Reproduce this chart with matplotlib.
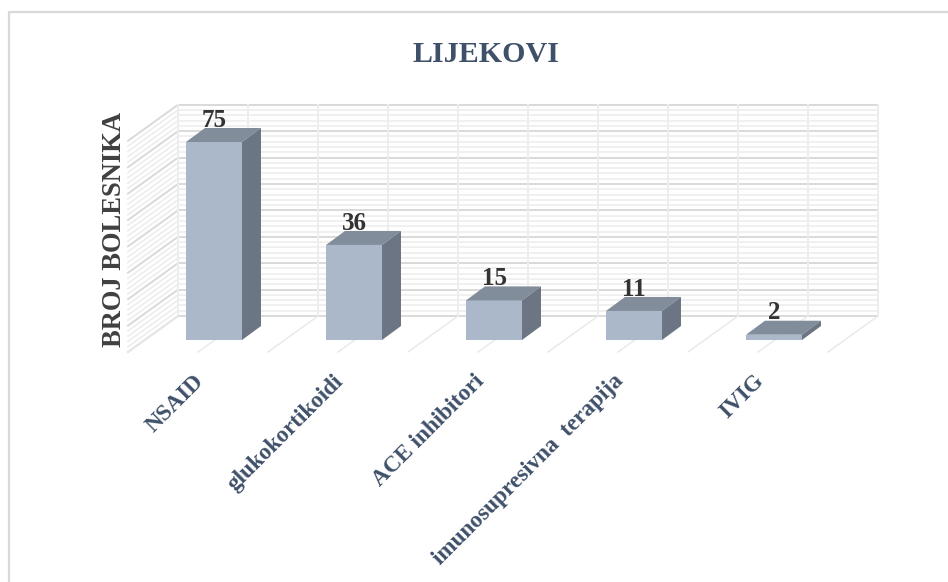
"""Stupci LIJEKOVI s kosom projekcijom (3D izgled)."""
import matplotlib
matplotlib.use('Agg')
import matplotlib.pyplot as plt
from matplotlib.patches import Polygon

kategorije = ['NSAID', 'glukokortikoidi', 'ACE inhibitori', 'imunosupresivna  terapija', 'IVIG']
vrijednosti = [75, 36, 15, 11, 2]
naslov = 'LIJEKOVI'
y_naslov = 'BROJ BOLESNIKA'
y_max = 80

W, H = 948, 582
PX_X, PX_Y = 140.0, 2.64     # piksela po kategoriji / po bolesniku
X0_PX, Y0_PX = 214.0, 340.0  # sredina prvog stupca i nula na prednjoj ravnini
POLA = 28 / PX_X             # pola širine stupca

# kosi pomak: dubina stupca i položaj zidova u odnosu na prednju ravninu stupca
BAR_DX, BAR_DY = 19 / PX_X, 14 / PX_Y
ZID_DX, ZID_DY = 34 / PX_X, 24 / PX_Y
PRED_DX, PRED_DY = -16 / PX_X, -12 / PX_Y

C_PRED, C_VRH, C_BOK = '#ABB8CA', '#818D9B', '#6C7583'
C_TXT, C_PLAVA = '#333333', '#3F5069'
C_MAJOR, C_MINOR, C_POD = '#D9D9D9', '#EDEDED', '#E8E8E8'

plt.rcParams['font.family'] = ['Liberation Serif', 'DejaVu Serif']

fig = plt.figure(figsize=(W / 100, H / 100), dpi=100, facecolor='white')
ax = fig.add_axes([0, 0, 1, 1])
ax.set_xlim(-X0_PX / PX_X, (W - X0_PX) / PX_X)
ax.set_ylim(-(H - Y0_PX) / PX_Y, Y0_PX / PX_Y)
ax.axis('off')

# okvir slike: vidi se samo gore i lijevo
ax.plot([8.5 / W, 8.5 / W, 1], [0, 1 - 11.5 / H, 1 - 11.5 / H], transform=ax.transAxes,
        color='#D9D9D9', lw=1.6, zorder=1)

n = len(kategorije)
x_lijevo, x_desno = -0.5, n - 0.5

# zidovi i mreža
for v in range(0, y_max + 1, 2):
    major = v % 10 == 0
    c, lw = (C_MAJOR, 1.4) if major else (C_MINOR, 1.2)
    ax.plot([x_lijevo + PRED_DX, x_lijevo + ZID_DX], [v + PRED_DY, v + ZID_DY], color=c, lw=lw, zorder=1)
    ax.plot([x_lijevo + ZID_DX, x_desno + ZID_DX], [v + ZID_DY, v + ZID_DY], color=c, lw=lw, zorder=1)
for i in range(2 * n + 1):
    x = x_lijevo + i / 2
    ax.plot([x + ZID_DX] * 2, [ZID_DY, y_max + ZID_DY], color=C_MINOR, lw=1.4, zorder=1.5)
    ax.plot([x + ZID_DX, x + PRED_DX], [ZID_DY, PRED_DY], color=C_POD, lw=1.0, zorder=1.5)

# stupci
for i, v in enumerate(vrijednosti):
    l, d = i - POLA, i + POLA
    ax.add_patch(Polygon([(l, 0), (d, 0), (d, v), (l, v)], facecolor=C_PRED, edgecolor='none', zorder=3))
    ax.add_patch(Polygon([(l, v), (d, v), (d + BAR_DX, v + BAR_DY), (l + BAR_DX, v + BAR_DY)],
                         facecolor=C_VRH, edgecolor='none', zorder=3))
    ax.add_patch(Polygon([(d, 0), (d + BAR_DX, BAR_DY), (d + BAR_DX, v + BAR_DY), (d, v)],
                         facecolor=C_BOK, edgecolor='none', zorder=3))
    ax.text(i, v + BAR_DY - 1.4, str(v), ha='center', va='bottom', fontsize=18,
            fontweight='bold', color=C_TXT, zorder=4)
    ax.annotate(kategorije[i], xy=(i, 0), xytext=(-15, -22), textcoords='offset points',
                rotation=45, rotation_mode='anchor', ha='right', va='top', fontsize=16.7,
                fontweight='bold', color=C_PLAVA)

ax.text(0.5127, 0.907, naslov, transform=ax.transAxes, ha='center', va='center', fontsize=21.6,
        fontweight='bold', color=C_PLAVA)
ax.text(0.121, 0.605, y_naslov, transform=ax.transAxes, rotation=90, ha='center', va='center',
        fontsize=19.1, fontweight='bold', color='#404040')

fig.savefig('out.png', dpi=100, facecolor='white')
plt.close(fig)
